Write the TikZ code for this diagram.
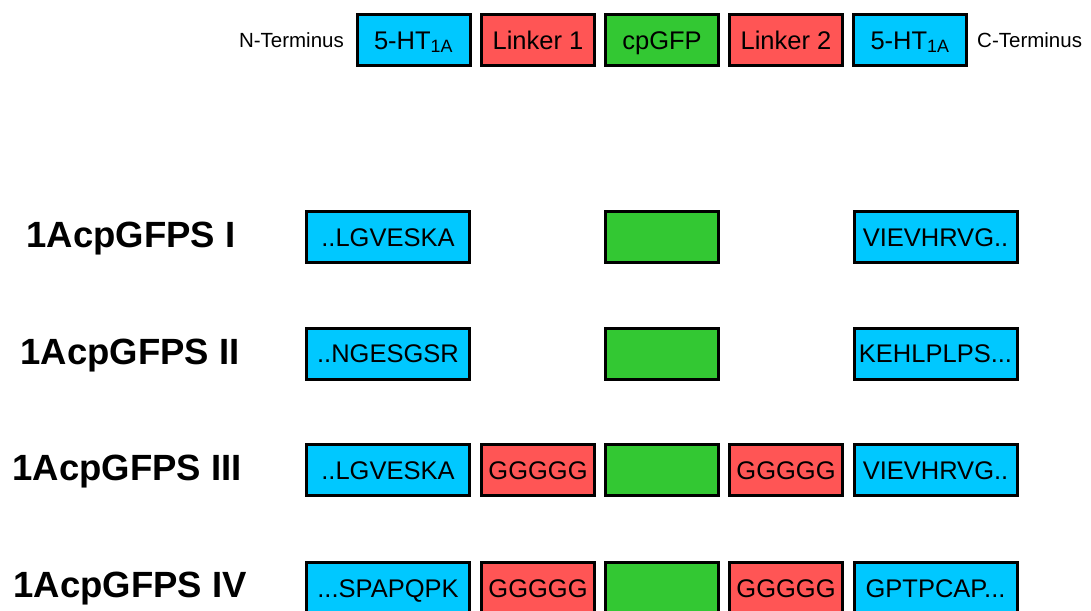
\documentclass[tikz,border=0pt]{standalone}
\usepackage{fontspec}
\setmainfont{Liberation Sans}
\definecolor{cblue}{RGB}{0,200,255}
\definecolor{cred}{RGB}{255,85,85}
\definecolor{cgreen}{RGB}{51,200,51}
\begin{document}
\begin{tikzpicture}[x=1pt,y=-1pt,
  seg/.style={draw=black,line width=3pt,minimum height=51pt,inner sep=0pt,
    text height=18.3pt,text depth=0pt,
    font=\fontsize{25.5}{28}\selectfont},
  bl/.style={seg,fill=cblue},
  rd/.style={seg,fill=cred},
  gr/.style={seg,fill=cgreen},
  wide/.style={minimum width=163pt},
  narrow/.style={minimum width=113pt},
  rowlabel/.style={font=\fontsize{36.5}{40}\selectfont\bfseries,
    text height=26.1pt,text depth=0pt,inner sep=0pt},
  term/.style={font=\fontsize{20.5}{24}\selectfont,
    text height=14.7pt,text depth=0pt,inner sep=0pt}]
\useasboundingbox (0,0) rectangle (1091,610);
% top legend
\node[bl,narrow] (tA) at (413.5,40) {5-HT\textsubscript{1A}};
\node[rd,narrow] (tB) at (538,40) {Linker 1};
\node[gr,narrow] (tC) at (662,40) {cpGFP};
\node[rd,narrow] (tD) at (786,40) {Linker 2};
\node[bl,narrow] (tE) at (910,40) {5-HT\textsubscript{1A}};
\node[term,anchor=east] (nterm) at (344,40) {N-Terminus};
\node[term,anchor=west] (cterm) at (977,40) {C-Terminus};
% row I
\node[rowlabel] (l1) at (131,234) {1AcpGFPS I};
\node[bl,wide] (r1a) at (388,237) {..LGVESKA};
\node[gr,narrow] (r1c) at (662,237) {};
\node[bl,wide] (r1e) at (935.5,237) {VIEVHRVG..};
% row II
\node[rowlabel] (l2) at (130,351) {1AcpGFPS II};
\node[bl,wide] (r2a) at (388,353.5) {..NGESGSR};
\node[gr,narrow] (r2c) at (662,353.5) {};
\node[bl,wide] (r2e) at (935.5,353.5) {KEHLPLPS...};
% row III
\node[rowlabel] (l3) at (127,467) {1AcpGFPS III};
\node[bl,wide] (r3a) at (388,470) {..LGVESKA};
\node[rd,narrow] (r3b) at (538,470) {GGGGG};
\node[gr,narrow] (r3c) at (662,470) {};
\node[rd,narrow] (r3d) at (786,470) {GGGGG};
\node[bl,wide] (r3e) at (935.5,470) {VIEVHRVG..};
% row IV
\node[rowlabel] (l4) at (130,584) {1AcpGFPS IV};
\node[bl,wide] (r4a) at (388,588) {...SPAPQPK};
\node[rd,narrow] (r4b) at (538,588) {GGGGG};
\node[gr,narrow] (r4c) at (662,588) {};
\node[rd,narrow] (r4d) at (786,588) {GGGGG};
\node[bl,wide] (r4e) at (935.5,588) {GPTPCAP...};
\end{tikzpicture}
\end{document}
